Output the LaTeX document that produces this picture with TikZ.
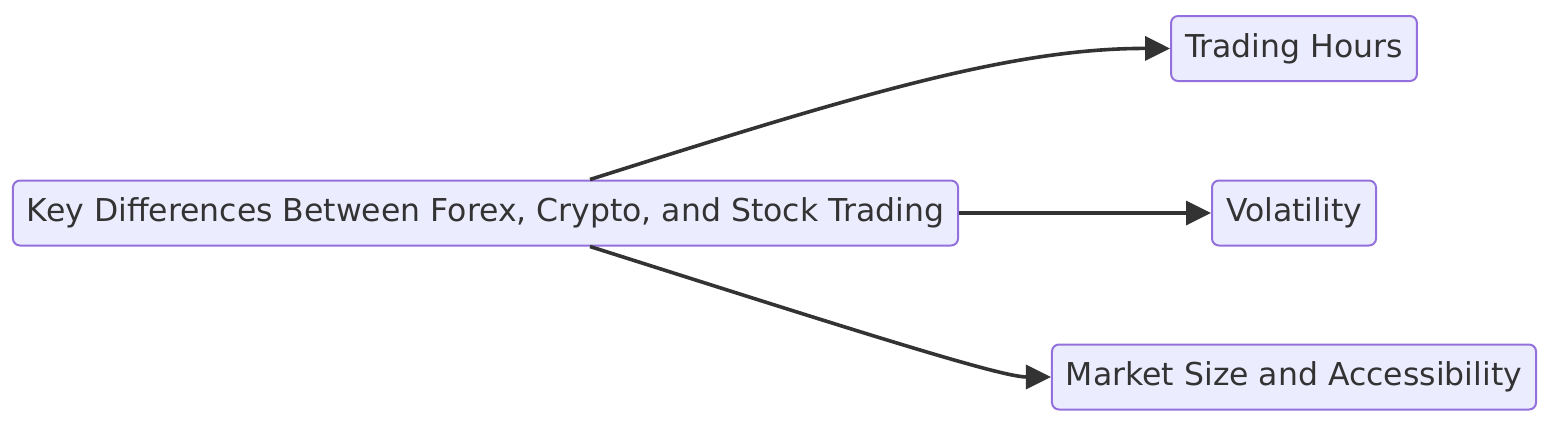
\documentclass[tikz,border=0pt]{standalone}
\usepackage{fontspec}
\setmainfont{DejaVu Sans}
\usetikzlibrary{positioning,arrows.meta}

\definecolor{boxfill}{HTML}{ECECFF}
\definecolor{boxline}{HTML}{9370DB}
\definecolor{ink}{HTML}{333333}

\tikzset{
  topic/.style={draw=boxline, fill=boxfill, line width=2pt, rounded corners=7pt,
    text=ink, font=\fontsize{31.5}{36}\selectfont, minimum height=65pt, inner xsep=14pt},
  link/.style={draw=ink, line width=3.6pt, -{Triangle[length=25pt,width=24pt]}}
}

\begin{document}
\begin{tikzpicture}[x=1pt,y=-1pt]
  \useasboundingbox (0,0) rectangle (1568,432);
  % nodes
  \node[topic] (key) at (485.5,213) {Key Differences Between Forex, Crypto, and Stock Trading};
  \node[topic] (hours) at (1294,48.5) {Trading Hours};
  \node[topic] (vol) at (1294,213) {Volatility};
  \node[topic] (size) at (1294,377) {Market Size and Accessibility};
  \coordinate (keytop) at ([xshift=104.5pt]key.north);
  \coordinate (keybot) at ([xshift=104.5pt]key.south);
  % edges
  \draw[link] (keytop) .. controls (850,97) and (1010,48) .. (hours.west);
  \draw[link] (key.east) -- (vol.west);
  \draw[link] (keybot) .. controls (850,329) and (1000,377) .. (size.west);
\end{tikzpicture}
\end{document}
